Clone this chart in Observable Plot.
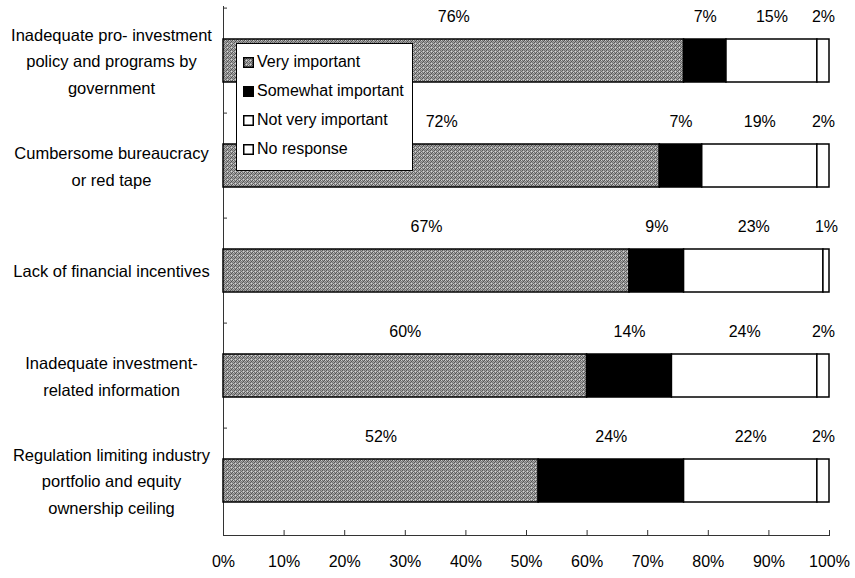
<!DOCTYPE html>
<html>
<head>
<meta charset="utf-8">
<script src="https://cdn.jsdelivr.net/npm/d3@7"></script>
<script src="https://cdn.jsdelivr.net/npm/@observablehq/plot@0.6"></script>
<style>
  body { margin: 0; background: #fff; }
  #chart { position: relative; width: 855px; height: 578px; font-family: "Liberation Sans", Arial, sans-serif; color: #000; }
  .legend { position: absolute; left: 236px; top: 43px; width: 177px; height: 128px; border: 1px solid #000; background: #fff; box-sizing: border-box; font-size: 16px; }
  .legend .item { position: absolute; left: 6px; height: 20px; display: flex; align-items: center; white-space: nowrap; }
  .legend svg { margin-right: 3px; }
</style>
</head>
<body>
<div id="chart"></div>
<svg width="0" height="0" style="position:absolute">
  <defs>
    <pattern id="stipple" width="4" height="4" patternUnits="userSpaceOnUse">
      <rect width="4" height="4" fill="#a2a2a2"/>
      <rect x="0" y="0" width="1" height="1" fill="#555"/>
      <rect x="2" y="0" width="1" height="1" fill="#707070"/>
      <rect x="1" y="1" width="1" height="1" fill="#7c7c7c"/>
      <rect x="3" y="1" width="1" height="1" fill="#505050"/>
      <rect x="0" y="2" width="1" height="1" fill="#747474"/>
      <rect x="2" y="2" width="1" height="1" fill="#5a5a5a"/>
      <rect x="1" y="3" width="1" height="1" fill="#686868"/>
      <rect x="3" y="3" width="1" height="1" fill="#d4d4d4"/>
      <rect x="1" y="0" width="1" height="1" fill="#cccccc"/>
    </pattern>
  </defs>
</svg>
<script>
// Survey: importance of obstacles to investment (share of respondents, %)
const categories = [
  "Inadequate pro- investment\npolicy and programs by\ngovernment",
  "Cumbersome bureaucracy\nor red tape",
  "Lack of financial incentives",
  "Inadequate investment-\nrelated information",
  "Regulation limiting industry\nportfolio and equity\nownership ceiling"
];
const series = ["Very important", "Somewhat important", "Not very important", "No response"];
const veryImportant     = [76, 72, 67, 60, 52];
const somewhatImportant = [7, 7, 9, 14, 24];
const notVeryImportant  = [15, 19, 23, 24, 22];
const noResponse        = [2, 2, 1, 2, 2];
const xTicks = [0, 10, 20, 30, 40, 50, 60, 70, 80, 90, 100];

const seriesValues = [veryImportant, somewhatImportant, notVeryImportant, noResponse];
const rows = [];
categories.forEach((category, i) => {
  series.forEach((s, j) => rows.push({category, series: s, value: seriesValues[j][i]}));
});

const fills = ["url(#stipple)", "#000", "#fff", "#fff"];

const width = 855, height = 578;
const marginTop = 6, marginBottom = 43, marginLeft = 223, marginRight = 26;
const step = (height - marginTop - marginBottom) / categories.length;

const chart = Plot.plot({
  width, height, marginTop, marginBottom, marginLeft, marginRight,
  style: {fontFamily: "'Liberation Sans', Arial, sans-serif", fontSize: "16px", background: "#fff", color: "#000"},
  x: {domain: [0, 100], label: null},
  y: {domain: categories, paddingInner: 0.594, paddingOuter: 0.297, label: null},
  color: {domain: series, range: fills},
  marks: [
    Plot.ruleX([0], {stroke: "#333", strokeWidth: 1}),
    Plot.frame({anchor: "bottom", stroke: "#333"}),
    // small boundary ticks between categories on the left axis
    Plot.axisY(categories, {tickSize: -4, tickFormat: () => "", dy: -step / 2, stroke: "#333"}),
    Plot.axisY({tickSize: 0, tickPadding: 112, textAnchor: "middle", lineHeight: 1.6, fontSize: 16.5, dy: -2}),
    Plot.axisX({ticks: xTicks, tickSize: -5, tickPadding: 25, tickFormat: d => d + "%", stroke: "#333", fontSize: 16}),
    Plot.barX(rows, Plot.stackX({x: "value", y: "category", fill: "series", order: series, stroke: "#000", strokeWidth: 1.5})),
    Plot.text(rows, Plot.stackX({x: "value", y: "category", z: "series", order: series, text: d => d.value + "%", dy: -44, fontSize: 16}))
  ]
});

const root = document.getElementById("chart");
root.appendChild(chart);

// Legend box overlaid on the plot
const legend = document.createElement("div");
legend.className = "legend";
series.forEach((s, i) => {
  const item = document.createElement("div");
  item.className = "item";
  item.style.top = (8 + i * 29) + "px";
  item.innerHTML = `<svg width="11" height="11"><rect x="0.75" y="0.75" width="9.5" height="9.5" fill="${fills[i]}" stroke="#000" stroke-width="1.5"/></svg><span>${s}</span>`;
  legend.appendChild(item);
});
root.appendChild(legend);
</script>
</body>
</html>
